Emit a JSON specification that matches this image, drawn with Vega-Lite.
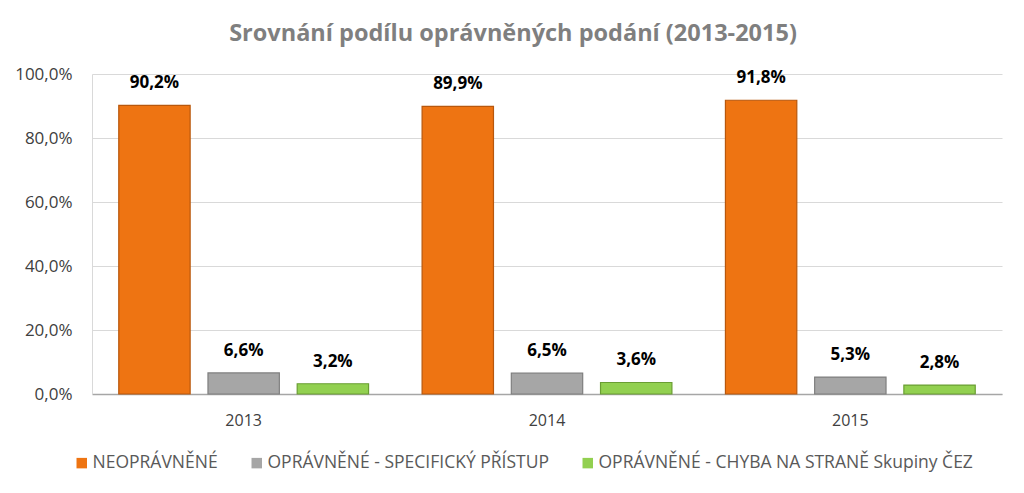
{
  "$schema": "https://vega.github.io/schema/vega-lite/v6.json",
  "autosize": "none",
  "width": 910,
  "height": 320,
  "padding": {"left": 92, "top": 74, "right": 22, "bottom": 99},
  "background": "white",
  "config": {"view": {"stroke": null}, "font": "Open Sans"},
  "title": {
    "text": "Srovnání podílu oprávněných podání (2013-2015)",
    "font": "Open Sans",
    "fontSize": 23.5,
    "fontWeight": "bold",
    "color": "#7F7F7F",
    "anchor": "middle",
    "dx": -34,
    "offset": 20
  },
  "data": {
    "values": [
      {"year": "2013", "series": "NEOPRÁVNĚNÉ", "value": 90.2},
      {"year": "2013", "series": "OPRÁVNĚNÉ - SPECIFICKÝ PŘÍSTUP", "value": 6.6},
      {"year": "2013", "series": "OPRÁVNĚNÉ - CHYBA NA STRANĚ Skupiny ČEZ", "value": 3.2},
      {"year": "2014", "series": "NEOPRÁVNĚNÉ", "value": 89.9},
      {"year": "2014", "series": "OPRÁVNĚNÉ - SPECIFICKÝ PŘÍSTUP", "value": 6.5},
      {"year": "2014", "series": "OPRÁVNĚNÉ - CHYBA NA STRANĚ Skupiny ČEZ", "value": 3.6},
      {"year": "2015", "series": "NEOPRÁVNĚNÉ", "value": 91.8},
      {"year": "2015", "series": "OPRÁVNĚNÉ - SPECIFICKÝ PŘÍSTUP", "value": 5.3},
      {"year": "2015", "series": "OPRÁVNĚNÉ - CHYBA NA STRANĚ Skupiny ČEZ", "value": 2.8}
    ]
  },
  "transform": [
    {"calculate": "replace(format(datum.value, '.1f'), '.', ',') + '%'", "as": "label"}
  ],
  "encoding": {
    "x": {
      "field": "year",
      "type": "nominal",
      "scale": {"paddingInner": 0, "paddingOuter": 0},
      "axis": {
        "title": null,
        "labelAngle": 0,
        "labelFont": "Open Sans",
        "labelFontSize": 16,
        "labelColor": "#404040",
        "labelPadding": 18,
        "ticks": false,
        "domainColor": "#A6A6A6",
        "domainWidth": 1.5
      }
    },
    "xOffset": {
      "field": "series",
      "type": "nominal",
      "sort": ["NEOPRÁVNĚNÉ", "OPRÁVNĚNÉ - SPECIFICKÝ PŘÍSTUP", "OPRÁVNĚNÉ - CHYBA NA STRANĚ Skupiny ČEZ"],
      "scale": {"paddingInner": 0.2, "paddingOuter": 0.3}
    },
    "y": {
      "field": "value",
      "type": "quantitative",
      "scale": {"domain": [0, 100], "nice": false},
      "axis": {
        "title": null,
        "values": [0, 20, 40, 60, 80, 100],
        "labelExpr": "replace(format(datum.value, '.1f'), '.', ',') + '%'",
        "labelFont": "Open Sans",
        "labelFontSize": 17,
        "labelColor": "#404040",
        "labelPadding": 20,
        "ticks": false,
        "domain": true,
        "domainColor": "#D9D9D9",
        "gridColor": "#D9D9D9",
        "gridWidth": 1
      }
    }
  },
  "layer": [
    {
      "mark": {"type": "bar", "strokeWidth": 1.2},
      "encoding": {
        "color": {
          "field": "series",
          "type": "nominal",
          "sort": ["NEOPRÁVNĚNÉ", "OPRÁVNĚNÉ - SPECIFICKÝ PŘÍSTUP", "OPRÁVNĚNÉ - CHYBA NA STRANĚ Skupiny ČEZ"],
          "scale": {
            "domain": ["NEOPRÁVNĚNÉ", "OPRÁVNĚNÉ - SPECIFICKÝ PŘÍSTUP", "OPRÁVNĚNÉ - CHYBA NA STRANĚ Skupiny ČEZ"],
            "range": ["#EE7412", "#A6A6A6", "#92D050"]
          },
          "legend": {
            "title": null,
            "orient": "none",
            "direction": "horizontal",
            "legendX": -19,
            "legendY": 380,
            "symbolType": "square",
            "symbolSize": 110,
            "symbolStrokeWidth": 0,
            "labelFont": "Open Sans",
            "labelFontSize": 17.5,
            "labelColor": "#595959",
            "labelLimit": 500,
            "columnPadding": 30,
            "labelOffset": 2
          }
        },
        "stroke": {
          "field": "series",
          "type": "nominal",
          "scale": {
            "domain": ["NEOPRÁVNĚNÉ", "OPRÁVNĚNÉ - SPECIFICKÝ PŘÍSTUP", "OPRÁVNĚNÉ - CHYBA NA STRANĚ Skupiny ČEZ"],
            "range": ["#B8570C", "#7F7F7F", "#6A9E33"]
          },
          "legend": null
        }
      }
    },
    {
      "mark": {"type": "text", "dy": -13, "fontWeight": "bold", "fontSize": 17, "font": "Open Sans", "color": "#000000", "baseline": "bottom"},
      "encoding": {
        "text": {"field": "label", "type": "nominal"}
      }
    }
  ]
}
